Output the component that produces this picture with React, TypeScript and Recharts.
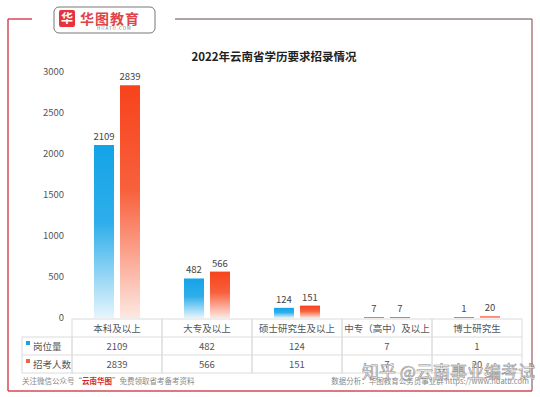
import React from 'react';
import { BarChart, Bar, XAxis, YAxis, LabelList } from 'recharts';

const categories = ['本科及以上', '大专及以上', '硕士研究生及以上', '中专（高中）及以上', '博士研究生'];
const positions = [2109, 482, 124, 7, 1];
const applicants = [2839, 566, 151, 7, 20];
const yTicks = [0, 500, 1000, 1500, 2000, 2500, 3000];
const seriesNames = ['岗位量', '招考人数'];
const titleText = '2022年云南省学历要求招录情况';

const data = categories.map((c, i) => ({ name: c, pos: positions[i], app: applicants[i] }));

const FONT = '"Noto Sans CJK SC", "Noto Sans", sans-serif';
const CELL_W = 90;
const ROW_H = 18;
const LINE = '#dcdcdc';

const TableTick = (props: any) => {
  const { x, y, payload, index } = props;
  const top = y;
  const left = x - CELL_W / 2;
  const i = index ?? categories.indexOf(payload.value);
  return (
    <g>
      <rect x={left} y={top} width={CELL_W} height={ROW_H * 3} fill="none" stroke={LINE} strokeWidth={1} />
      <line x1={left} x2={left + CELL_W} y1={top + ROW_H} y2={top + ROW_H} stroke={LINE} />
      <line x1={left} x2={left + CELL_W} y1={top + ROW_H * 2} y2={top + ROW_H * 2} stroke={LINE} />
      <text x={x} y={top + ROW_H / 2 + 3.5} textAnchor="middle" fontSize={9.5} fill="#555" fontFamily={FONT}>{payload.value}</text>
      <text x={x} y={top + ROW_H * 1.5 + 3.5} textAnchor="middle" fontSize={9.5} fill="#555" fontFamily={FONT}>{positions[i]}</text>
      <text x={x} y={top + ROW_H * 2.5 + 3.5} textAnchor="middle" fontSize={9.5} fill="#555" fontFamily={FONT}>{applicants[i]}</text>
    </g>
  );
};

export default function App() {
  return (
    <div style={{ position: 'absolute', left: 0, top: 0, width: 540, height: 397, background: '#fff', fontFamily: FONT, overflow: 'hidden' }}>
      {/* frame */}
      <svg width={540} height={397} style={{ position: 'absolute', left: 0, top: 0 }}>
        <line x1={8} y1={19} x2={8} y2={391} stroke="#d44a58" strokeWidth={1.5} />
        <line x1={8} y1={19} x2={32} y2={19} stroke="#d44a58" strokeWidth={1.5} />
        <line x1={8} y1={391} x2={532} y2={391} stroke="#d44a58" strokeWidth={1.5} />
        <line x1={175} y1={19} x2={532} y2={19} stroke="#5a4a4c" strokeWidth={1.2} />
        <line x1={532} y1={19} x2={532} y2={391} stroke="#9a5a5e" strokeWidth={1.2} />
        <rect x={54} y={7} width={101} height={26} rx={5} fill="#fff" stroke="#777" strokeWidth={1} />
        <rect x={59} y={10} width={16} height={17} rx={2} fill="#e8333d" />
        <text x={67} y={23} textAnchor="middle" fontSize={12} fontWeight={700} fill="#fff" fontFamily={FONT}>华</text>
        <text x={80} y={24} fontSize={14} fontWeight={700} fill="#e0444b" fontFamily={FONT} letterSpacing={1}>华图教育</text>
        <text x={97} y={30} fontSize={4.5} fill="#777" fontFamily={FONT} letterSpacing={1}>HUATU.COM</text>
      </svg>
      <div style={{ position: 'absolute', left: 0, top: 0 }}>
        <BarChart width={540} height={397} data={data} margin={{ top: 72, right: 18, bottom: 19, left: 20 }} barSize={20} barGap={6}>
          <defs>
            <linearGradient id="gBlue" x1="0" y1="0" x2="0" y2="1">
              <stop offset="0%" stopColor="#14a3e8" />
              <stop offset="45%" stopColor="#2eaeea" />
              <stop offset="100%" stopColor="#e6f5fd" />
            </linearGradient>
            <linearGradient id="gRed" x1="0" y1="0" x2="0" y2="1">
              <stop offset="0%" stopColor="#f7431c" />
              <stop offset="45%" stopColor="#f8603c" />
              <stop offset="100%" stopColor="#fde8e2" />
            </linearGradient>
          </defs>
          <XAxis dataKey="name" axisLine={false} tickLine={false} tickSize={0} tickMargin={1} height={60} interval={0} tick={<TableTick />} />
          <YAxis domain={[0, 3000]} ticks={yTicks} axisLine={false} tickLine={false} width={52} tick={{ fontSize: 9.5, fill: '#555', fontFamily: FONT }} />
          <Bar dataKey="pos" name={seriesNames[0]} fill="url(#gBlue)" isAnimationActive={false} minPointSize={1}>
            <LabelList dataKey="pos" position="top" offset={5} style={{ fontSize: 9.5, fill: '#444', fontFamily: FONT }} />
          </Bar>
          <Bar dataKey="app" name={seriesNames[1]} fill="url(#gRed)" isAnimationActive={false} minPointSize={1}>
            <LabelList dataKey="app" position="top" offset={5} style={{ fontSize: 9.5, fill: '#444', fontFamily: FONT }} />
          </Bar>
        </BarChart>
      </div>
      {/* title */}
      <div style={{ position: 'absolute', left: 0, width: 548, top: 48, textAlign: 'center', fontSize: 11.5, fontWeight: 700, color: '#222' }}>{titleText}</div>
      {/* legend column of table */}
      <svg width={540} height={397} style={{ position: 'absolute', left: 0, top: 0, pointerEvents: 'none' }}>
        <rect x={22} y={337} width={50} height={36} fill="none" stroke={LINE} />
        <line x1={22} x2={72} y1={355} y2={355} stroke={LINE} />
        <rect x={26} y={341} width={4} height={4} fill="#1ea3df" />
        <text x={33} y={349.5} fontSize={9.5} fill="#555" fontFamily={FONT}>{seriesNames[0]}</text>
        <rect x={26} y={359} width={4} height={4} fill="#f0673f" />
        <text x={33} y={367.5} fontSize={9.5} fill="#555" fontFamily={FONT}>{seriesNames[1]}</text>
        <text x={22} y={384} fontSize={7.5} fill="#888" fontFamily={FONT}>
          关注微信公众号“<tspan fill="#d8262f" fontWeight={700}>云南华图</tspan>”免费领取省考备考资料
        </text>
        <text x={529} y={384} textAnchor="end" fontSize={7.5} fill="#888" fontFamily={FONT}>数据分析：华图教育公务员事业群  https://www.huatu.com</text>
        <text x={362} y={378} fontSize={17} fill="#fff" fillOpacity={0.85} stroke="#8a8a8a" strokeWidth={0.6} fontFamily={FONT}>知乎 @云南事业编考试</text>
      </svg>
    </div>
  );
}
